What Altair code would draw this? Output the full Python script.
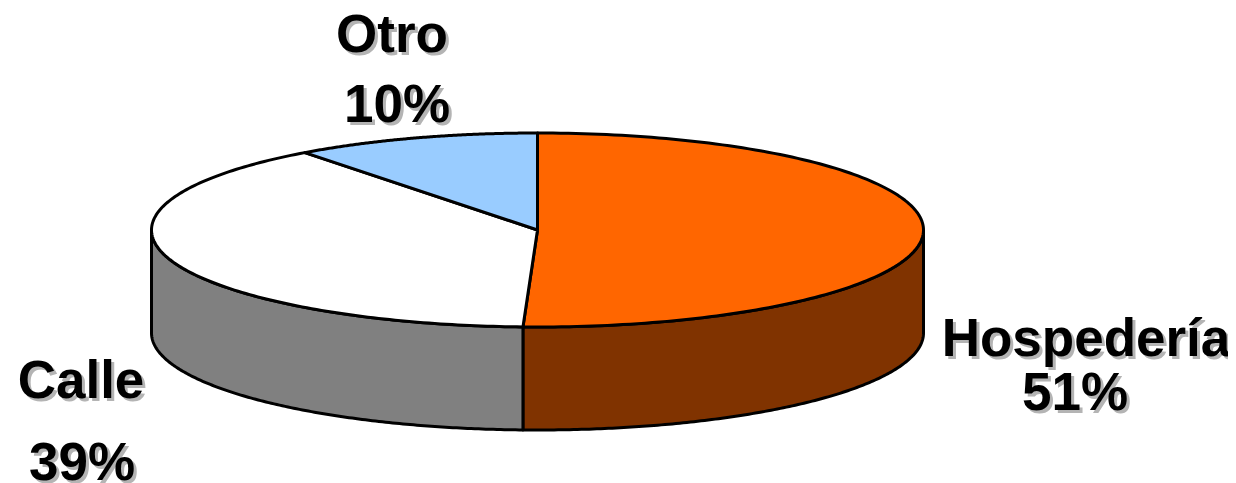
import numpy as np
import pandas as pd
import altair as alt

# Slice data
categories = ["Hospedería", "Calle", "Otro"]
shares = [50.6, 39.1, 10.3]
label_pct = ["51%", "39%", "10%"]
top_colors = ["#FF6600", "#FFFFFF", "#99CCFF"]
side_colors = ["#803300", "#808080", "#4D6680"]

# Page geometry of the drawing
W, H = 1220, 475
CX, CY, RX, RY, DEPTH = 537.5, 230, 386, 97, 103


def point(deg, drop=0.0):
    r = np.radians(deg)
    return CX + RX * np.sin(r), CY - RY * np.cos(r) + drop


rows = []


def add_poly(name, pts):
    for i, (x, y) in enumerate(pts):
        rows.append({"poly": name, "i": i, "x": float(x), "y": float(y)})


edges = np.concatenate([[0], np.cumsum(shares) * 3.6])
sides = []
tops = []
for k, cat in enumerate(categories):
    a0, a1 = edges[k], edges[k + 1]
    angles = np.linspace(a0, a1, 160)
    top = [(CX, CY)] + [point(a) for a in angles] + [(CX, CY)]
    add_poly("top " + cat, top)
    tops.append(("top " + cat, top_colors[k]))
    # the visible wall is the front half of the rim only
    lo, hi = max(a0, 90), min(a1, 270)
    if hi > lo:
        wall_angles = np.linspace(lo, hi, 160)
        wall = [point(a) for a in wall_angles] + [point(a, DEPTH) for a in wall_angles[::-1]]
        wall.append(wall[0])
        add_poly("side " + cat, wall)
        sides.append(("side " + cat, side_colors[k]))

df = pd.DataFrame(rows)
xs = alt.Scale(domain=[8, 8 + W], range=[0, W])
ys = alt.Scale(domain=[8, 8 + H], range=[0, H])


def poly_layer(name, color):
    return (
        alt.Chart(df)
        .transform_filter(alt.datum.poly == name)
        .mark_line(fill=color, stroke="#000000", strokeWidth=3, strokeJoin="round", clip=False)
        .encode(
            x=alt.X("x:Q", scale=xs, axis=None),
            y=alt.Y("y:Q", scale=ys, axis=None),
            order="i:Q",
        )
    )


layers = [poly_layer(n, c) for n, c in sides] + [poly_layer(n, c) for n, c in tops]

# text: (string, page x of centre, page baseline y)
texts = [
    (categories[0], 1086, 356),
    (label_pct[0], 1075, 410),
    (categories[1], 81, 398),
    (label_pct[1], 82, 480),
    (categories[2], 392, 52),
    (label_pct[2], 397, 122),
]
tdf = pd.DataFrame(texts, columns=["t", "x", "y"])


def text_layer(color, off):
    return (
        alt.Chart(tdf)
        .mark_text(
            font="Liberation Sans", fontWeight="bold", fontSize=53, align="center",
            baseline="alphabetic", color=color, dx=off, dy=off,
        )
        .encode(
            x=alt.X("x:Q", scale=xs, axis=None),
            y=alt.Y("y:Q", scale=ys, axis=None),
            text="t:N",
        )
    )


layers += [text_layer("#B4B4B4", 3), text_layer("#000000", 0)]

chart = (
    alt.layer(*layers)
    .resolve_scale(x="shared", y="shared")
    .properties(width=W, height=H, padding=0, background="#FFFFFF",
                autosize=alt.AutoSizeParams(type="none"))
    .configure_view(stroke=None)
)
chart.save("out.html", embed_options={"renderer": "svg", "actions": False})
